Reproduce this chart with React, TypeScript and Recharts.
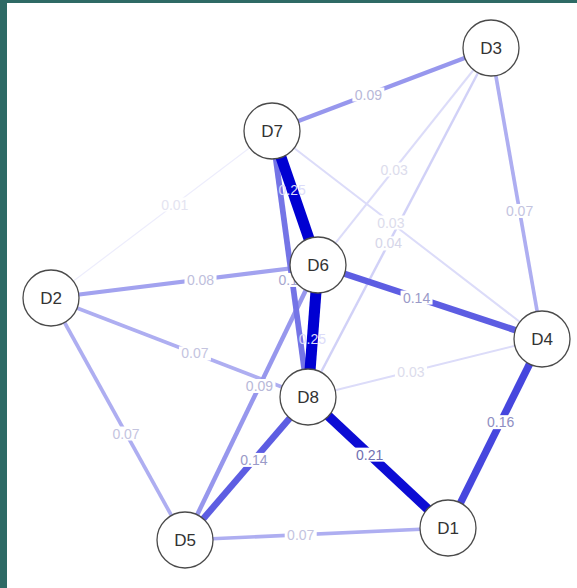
import { ScatterChart, Scatter, XAxis, YAxis } from 'recharts';

// node layout (page pixels, y downwards)
const nodeNames = ['D1', 'D2', 'D3', 'D4', 'D5', 'D6', 'D7', 'D8'];
const nodeX = [448, 51, 491, 542, 185, 318, 272, 308];
const nodeY = [528, 298, 48, 339, 540, 265, 131, 397];

// edges: lower index -> higher index, with partial correlation weight
const edgeFrom = ['D1', 'D1', 'D1', 'D2', 'D2', 'D2', 'D2', 'D3', 'D3', 'D3', 'D3', 'D4', 'D4', 'D4', 'D5', 'D5', 'D6', 'D6', 'D7'];
const edgeTo = ['D5', 'D8', 'D4', 'D5', 'D6', 'D7', 'D8', 'D4', 'D6', 'D7', 'D8', 'D6', 'D7', 'D8', 'D6', 'D8', 'D7', 'D8', 'D8'];
const edgeWeight = [0.07, 0.21, 0.16, 0.07, 0.08, 0.01, 0.07, 0.07, 0.03, 0.09, 0.04, 0.14, 0.03, 0.03, 0.09, 0.14, 0.25, 0.25, 0.12];

const W = 577;
const H = 588;
const NODE_R = 28;
const LABEL_POS = 0.56;

const nodes = nodeNames.map((name, i) => ({ name, x: nodeX[i], y: nodeY[i] }));
const nodeOf = (name: string) => nodes[nodeNames.indexOf(name)];

const edges = edgeWeight
  .map((w, i) => ({ from: nodeOf(edgeFrom[i]), to: nodeOf(edgeTo[i]), w }))
  .sort((a, b) => a.w - b.w);

const labels = edges.map((e) => ({
  x: e.from.x + (e.to.x - e.from.x) * LABEL_POS,
  y: e.from.y + (e.to.y - e.from.y) * LABEL_POS,
  w: e.w,
}));

const alphaOf = (w: number) => Math.max(0.07, Math.min(1, w / 0.22));

const edgeColor = (w: number) => {
  const a = alphaOf(w);
  const rg = Math.round(255 * (1 - a));
  const b = Math.round(255 - 45 * a);
  return `rgb(${rg},${rg},${b})`;
};

const labelColor = (w: number) => {
  if (w >= 0.24) return '#dcdcfa';
  const k = 0.75 * alphaOf(w) + 0.1;
  const rg = Math.round(255 - 175 * k);
  const b = Math.round(255 - 95 * k);
  return `rgb(${rg},${rg},${b})`;
};

const Empty = () => <g />;

// eslint-disable-next-line @typescript-eslint/no-explicit-any
const EdgeLabel = (props: any) => {
  const { cx, cy, payload } = props;
  const text = payload.w.toFixed(2);
  const strong = payload.w >= 0.24;
  return (
    <g>
      {!strong && <rect x={cx - 16} y={cy - 7} width={32} height={14} fill="#ffffff" />}
      <text
        x={cx}
        y={cy}
        dy="0.36em"
        textAnchor="middle"
        fontSize={14}
        fontFamily="'Liberation Sans', Arial, sans-serif"
        fill={labelColor(payload.w)}
      >
        {text}
      </text>
    </g>
  );
};

// eslint-disable-next-line @typescript-eslint/no-explicit-any
const NodeShape = (props: any) => {
  const { cx, cy, payload } = props;
  return (
    <g>
      <circle cx={cx} cy={cy} r={NODE_R} fill="#ffffff" stroke="#4a4a4a" strokeWidth={1.3} />
      <text
        x={cx}
        y={cy}
        dy="0.36em"
        textAnchor="middle"
        fontSize={17}
        fontFamily="'Liberation Sans', Arial, sans-serif"
        fill="#333333"
      >
        {payload.name}
      </text>
    </g>
  );
};

export default function App() {
  return (
    <div style={{ position: 'fixed', left: 0, top: 0, width: W, height: H, background: '#2e6a65' }}>
      <div style={{ position: 'absolute', left: 7, top: 3, right: 0, bottom: 0, background: '#ffffff' }} />
      <div style={{ position: 'absolute', left: 0, top: 0 }}>
        <ScatterChart width={W} height={H} margin={{ top: 0, right: 0, bottom: 0, left: 0 }}>
          <XAxis type="number" dataKey="x" domain={[0, W]} hide />
          <YAxis type="number" dataKey="y" domain={[0, H]} reversed hide />
          {edges.map((e, i) => (
            <Scatter
              key={`edge-${i}`}
              data={[e.from, e.to]}
              fill={edgeColor(e.w)}
              line={{ stroke: edgeColor(e.w), strokeWidth: 0.8 + 41 * e.w }}
              shape={<Empty />}
              isAnimationActive={false}
            />
          ))}
          <Scatter data={labels} shape={<EdgeLabel />} isAnimationActive={false} />
          <Scatter data={nodes} shape={<NodeShape />} isAnimationActive={false} />
        </ScatterChart>
      </div>
    </div>
  );
}
